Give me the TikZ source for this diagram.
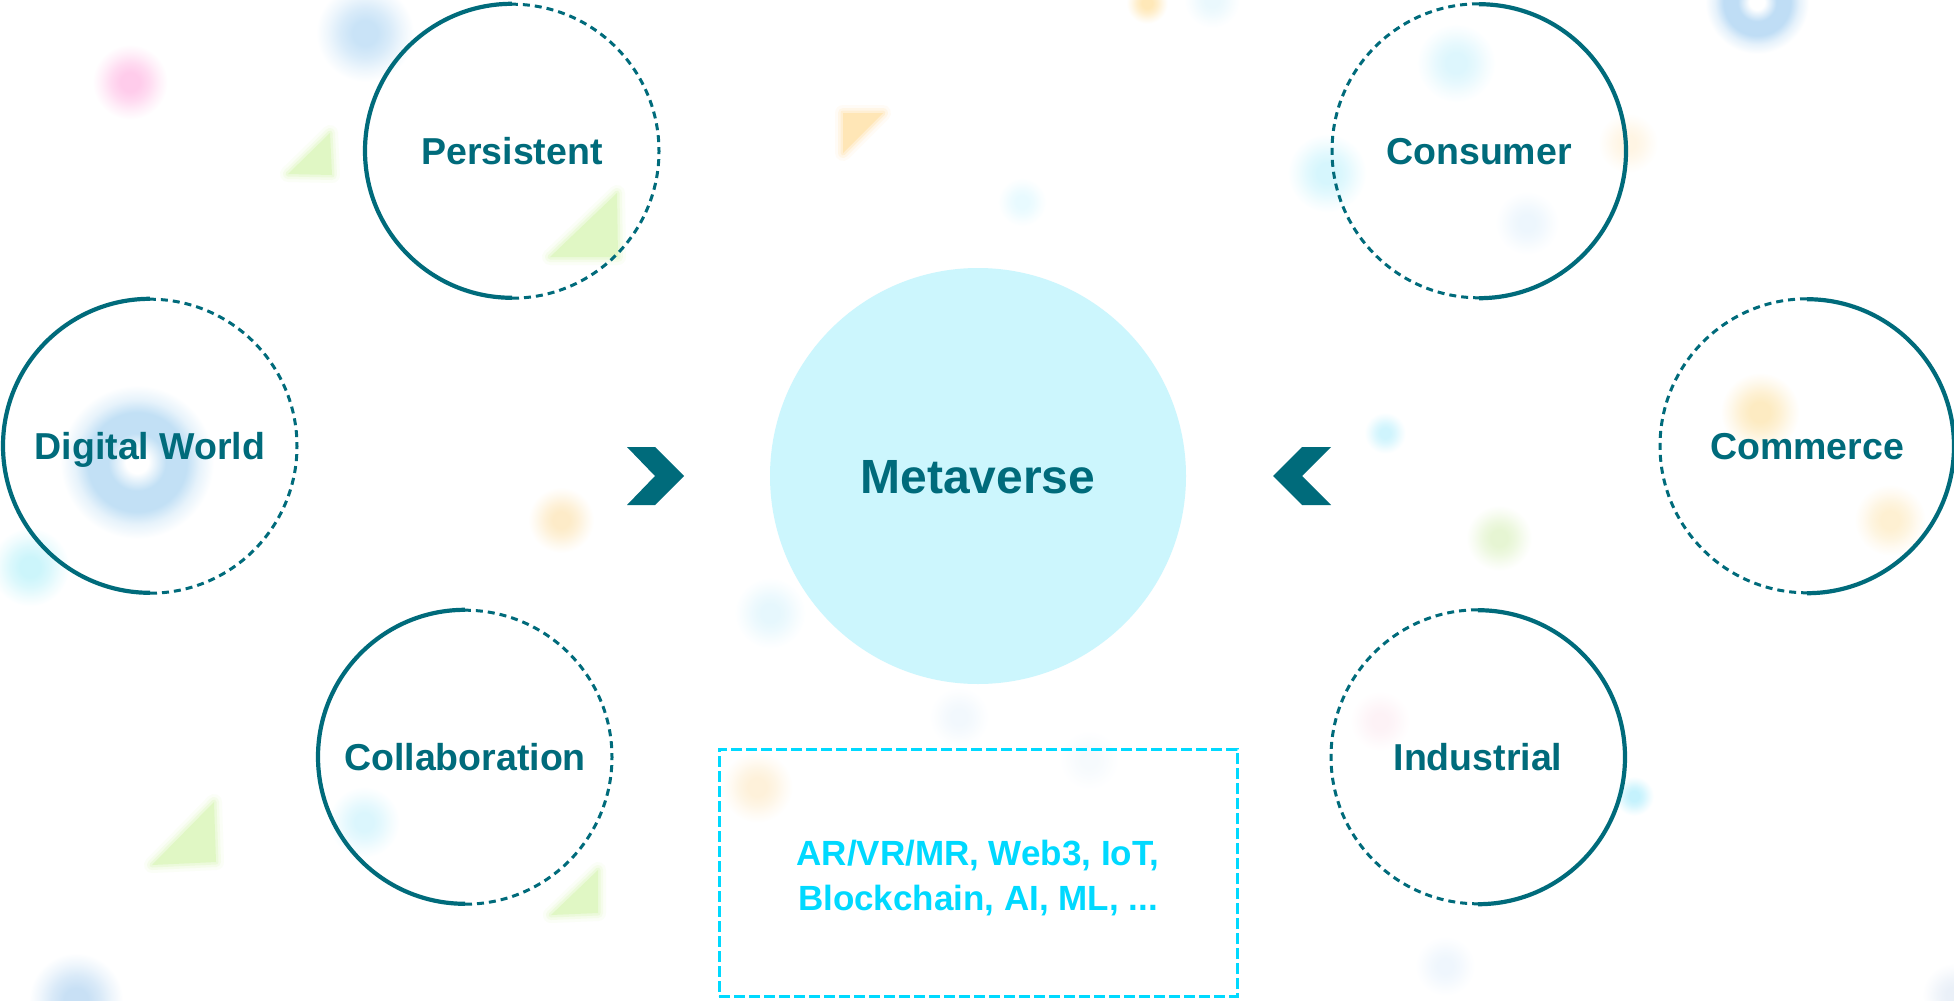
\documentclass[tikz,border=0pt]{standalone}
\usepackage{fontspec}
\setmainfont{Liberation Sans}

\definecolor{mvteal}{HTML}{006B7B}
\definecolor{mvcore}{HTML}{CCF6FD}
\definecolor{mvbright}{HTML}{00D9FF}
\definecolor{leafgreen}{HTML}{E0F7C4}
\definecolor{sandorange}{HTML}{FFE6B6}
\colorlet{blobcol}{white}
\colorlet{ringcol}{white}

% soft, blurred dot (the path edge sits at 25bp): core fading out to white
\pgfdeclareradialshading[blobcol]{softblob}{\pgfpointorigin}{%
  color(0bp)=(blobcol); color(6bp)=(blobcol);
  color(12bp)=(blobcol!70!white); color(18bp)=(blobcol!30!white);
  color(23.5bp)=(white); color(50bp)=(white)}
% soft, blurred donut
\pgfdeclareradialshading[ringcol]{softring}{\pgfpointorigin}{%
  color(0bp)=(white); color(3.5bp)=(white); color(9bp)=(ringcol);
  color(15.5bp)=(ringcol); color(19.5bp)=(ringcol!40!white);
  color(24bp)=(white); color(50bp)=(white)}

% blurred triangle: widening translucent outlines under a flat fill
\newcommand\softtri[2]{%
  \foreach \w/\o in {16/0.12,10/0.22,5/0.4}{%
    \draw[#1, line width=\w pt, opacity=\o, line join=round] #2;}
  \fill[#1] #2;}
\newcommand\softdot[4]{% colour (hex), x, y, radius
  \definecolor{blobcol}{HTML}{#1}\shade[shading=softblob] (#2,#3) circle[radius=#4pt];}
\newcommand\softdonut[4]{%
  \definecolor{ringcol}{HTML}{#1}\shade[shading=softring] (#2,#3) circle[radius=#4pt];}

\tikzset{
  topic/.style={circle, minimum size=294pt, inner sep=0pt,
    font=\fontsize{37.5}{40}\selectfont\bfseries, text=mvteal,
    text height=27pt, text depth=0pt},
  solidhalf/.style={draw=mvteal, line width=4.2pt},
  dashhalf/.style={draw=mvteal, line width=3pt, dash pattern=on 7pt off 5pt},
  core/.style={circle, minimum size=416pt, inner sep=0pt, fill=mvcore,
    font=\fontsize{48}{50}\selectfont\bfseries, text=mvteal,
    text height=34.4pt, text depth=0pt},
  techbox/.style={draw=mvbright, line width=3pt, dash pattern=on 11pt off 4pt,
    minimum width=518pt, minimum height=247pt, align=center,
    font=\fontsize{35}{45}\selectfont\bfseries, text=mvbright},
  chevron/.style={fill=mvteal}
}

\begin{document}
\begin{tikzpicture}[x=1pt,y=-1pt]
\useasboundingbox (0,0) rectangle (1954,1001);
\fill[white] (0,0) rectangle (1954,1001);
\begin{scope}
\clip (0,0) rectangle (1954,1001);
% scattered background confetti
\softdot{C9E3F7}{365}{33}{52}
\softdot{FFCCEB}{130}{82}{40}
\softdot{E8FAFF}{1022}{202}{26}
\softdot{FFE8B8}{1147}{3}{22}
\softdot{EAF8FD}{1212}{0}{30}
\softdonut{BFDDF5}{1757}{2}{54}
\softdot{DDF6FD}{1456}{63}{42}
\softdot{D6F6FD}{1327}{173}{42}
\softdot{EDF6FD}{1527}{223}{34}
\softdot{FFF5E4}{1628}{143}{32}
\softdonut{C2E0F5}{137}{462}{80}
\softdot{CCF5FB}{30}{567}{42}
\softdot{FDEBC2}{1760}{412}{42}
\softdot{FEF0D2}{1890}{520}{38}
\softdot{FDEBC8}{561}{520}{35}
\softdot{E6F7FD}{770}{613}{38}
\softdot{F2F8FD}{959}{717}{32}
\softdot{CFF4FD}{1385}{433}{22}
\softdot{E6F5D3}{1499}{538}{35}
\softdot{FDF2F6}{1380}{721}{32}
\softdot{C5F2FD}{1634}{796}{21}
\softdot{EFF6FD}{1445}{966}{32}
\softdot{DBF6FD}{364}{822}{38}
\softdot{C8E0F5}{76}{1000}{50}
\softdot{FEF1DA}{757}{787}{38}
\softdot{F6FAFD}{1089}{760}{32}
\softdot{EAF0F8}{1954}{995}{34}
\softtri{leafgreen}{(330,133) -- (288,174) -- (332,175) -- cycle}
\softtri{leafgreen}{(617,193) -- (550,257) -- (618,257) -- cycle}
\softtri{sandorange}{(843,113) -- (883,113) -- (843,153) -- cycle}
\softtri{leafgreen}{(214,802) -- (152,865) -- (216,862) -- cycle}
\softtri{leafgreen}{(598,870) -- (551,915) -- (598,913) -- cycle}
\end{scope}

% centre
\node[core] (meta) at (978,476) {Metaverse};

% left-hand topics: solid left half, dotted right half
\node[topic] (persistent) at (512,151) {Persistent};
\node[topic] (digital) at (150,446) {Digital World};
\node[topic] (collab) at (465,757) {Collaboration};
% right-hand topics: dotted left half, solid right half
\node[topic] (consumer) at (1479,151) {Consumer};
\node[topic] (commerce) at (1807,446) {Commerce};
\node[topic] (industrial) at (1478,757) {Industrial};

\foreach \n in {persistent,digital,collab}{
  \draw[solidhalf] (\n.north) arc[start angle=90, end angle=270, radius=147pt];
  \draw[dashhalf] (\n.south) arc[start angle=-90, end angle=90, radius=147pt];
}
\foreach \n in {consumer,commerce,industrial}{
  \draw[dashhalf] (\n.north) arc[start angle=90, end angle=270, radius=147pt];
  \draw[solidhalf] (\n.south) arc[start angle=-90, end angle=90, radius=147pt];
}

% chevrons pointing at the centre
\fill[chevron] (627,447) -- (655,447) -- (684,476) -- (655,505) -- (627,505) -- (655,476) -- cycle;
\fill[chevron] (1331,447) -- (1302,447) -- (1273,476) -- (1302,505) -- (1331,505) -- (1302,476) -- cycle;

% enabling technologies
\node[techbox] (tech) at (978,872.5) {\rule{0pt}{36pt}AR/VR/MR, Web3, IoT,\\Blockchain, AI, ML, ...};
\end{tikzpicture}
\end{document}
